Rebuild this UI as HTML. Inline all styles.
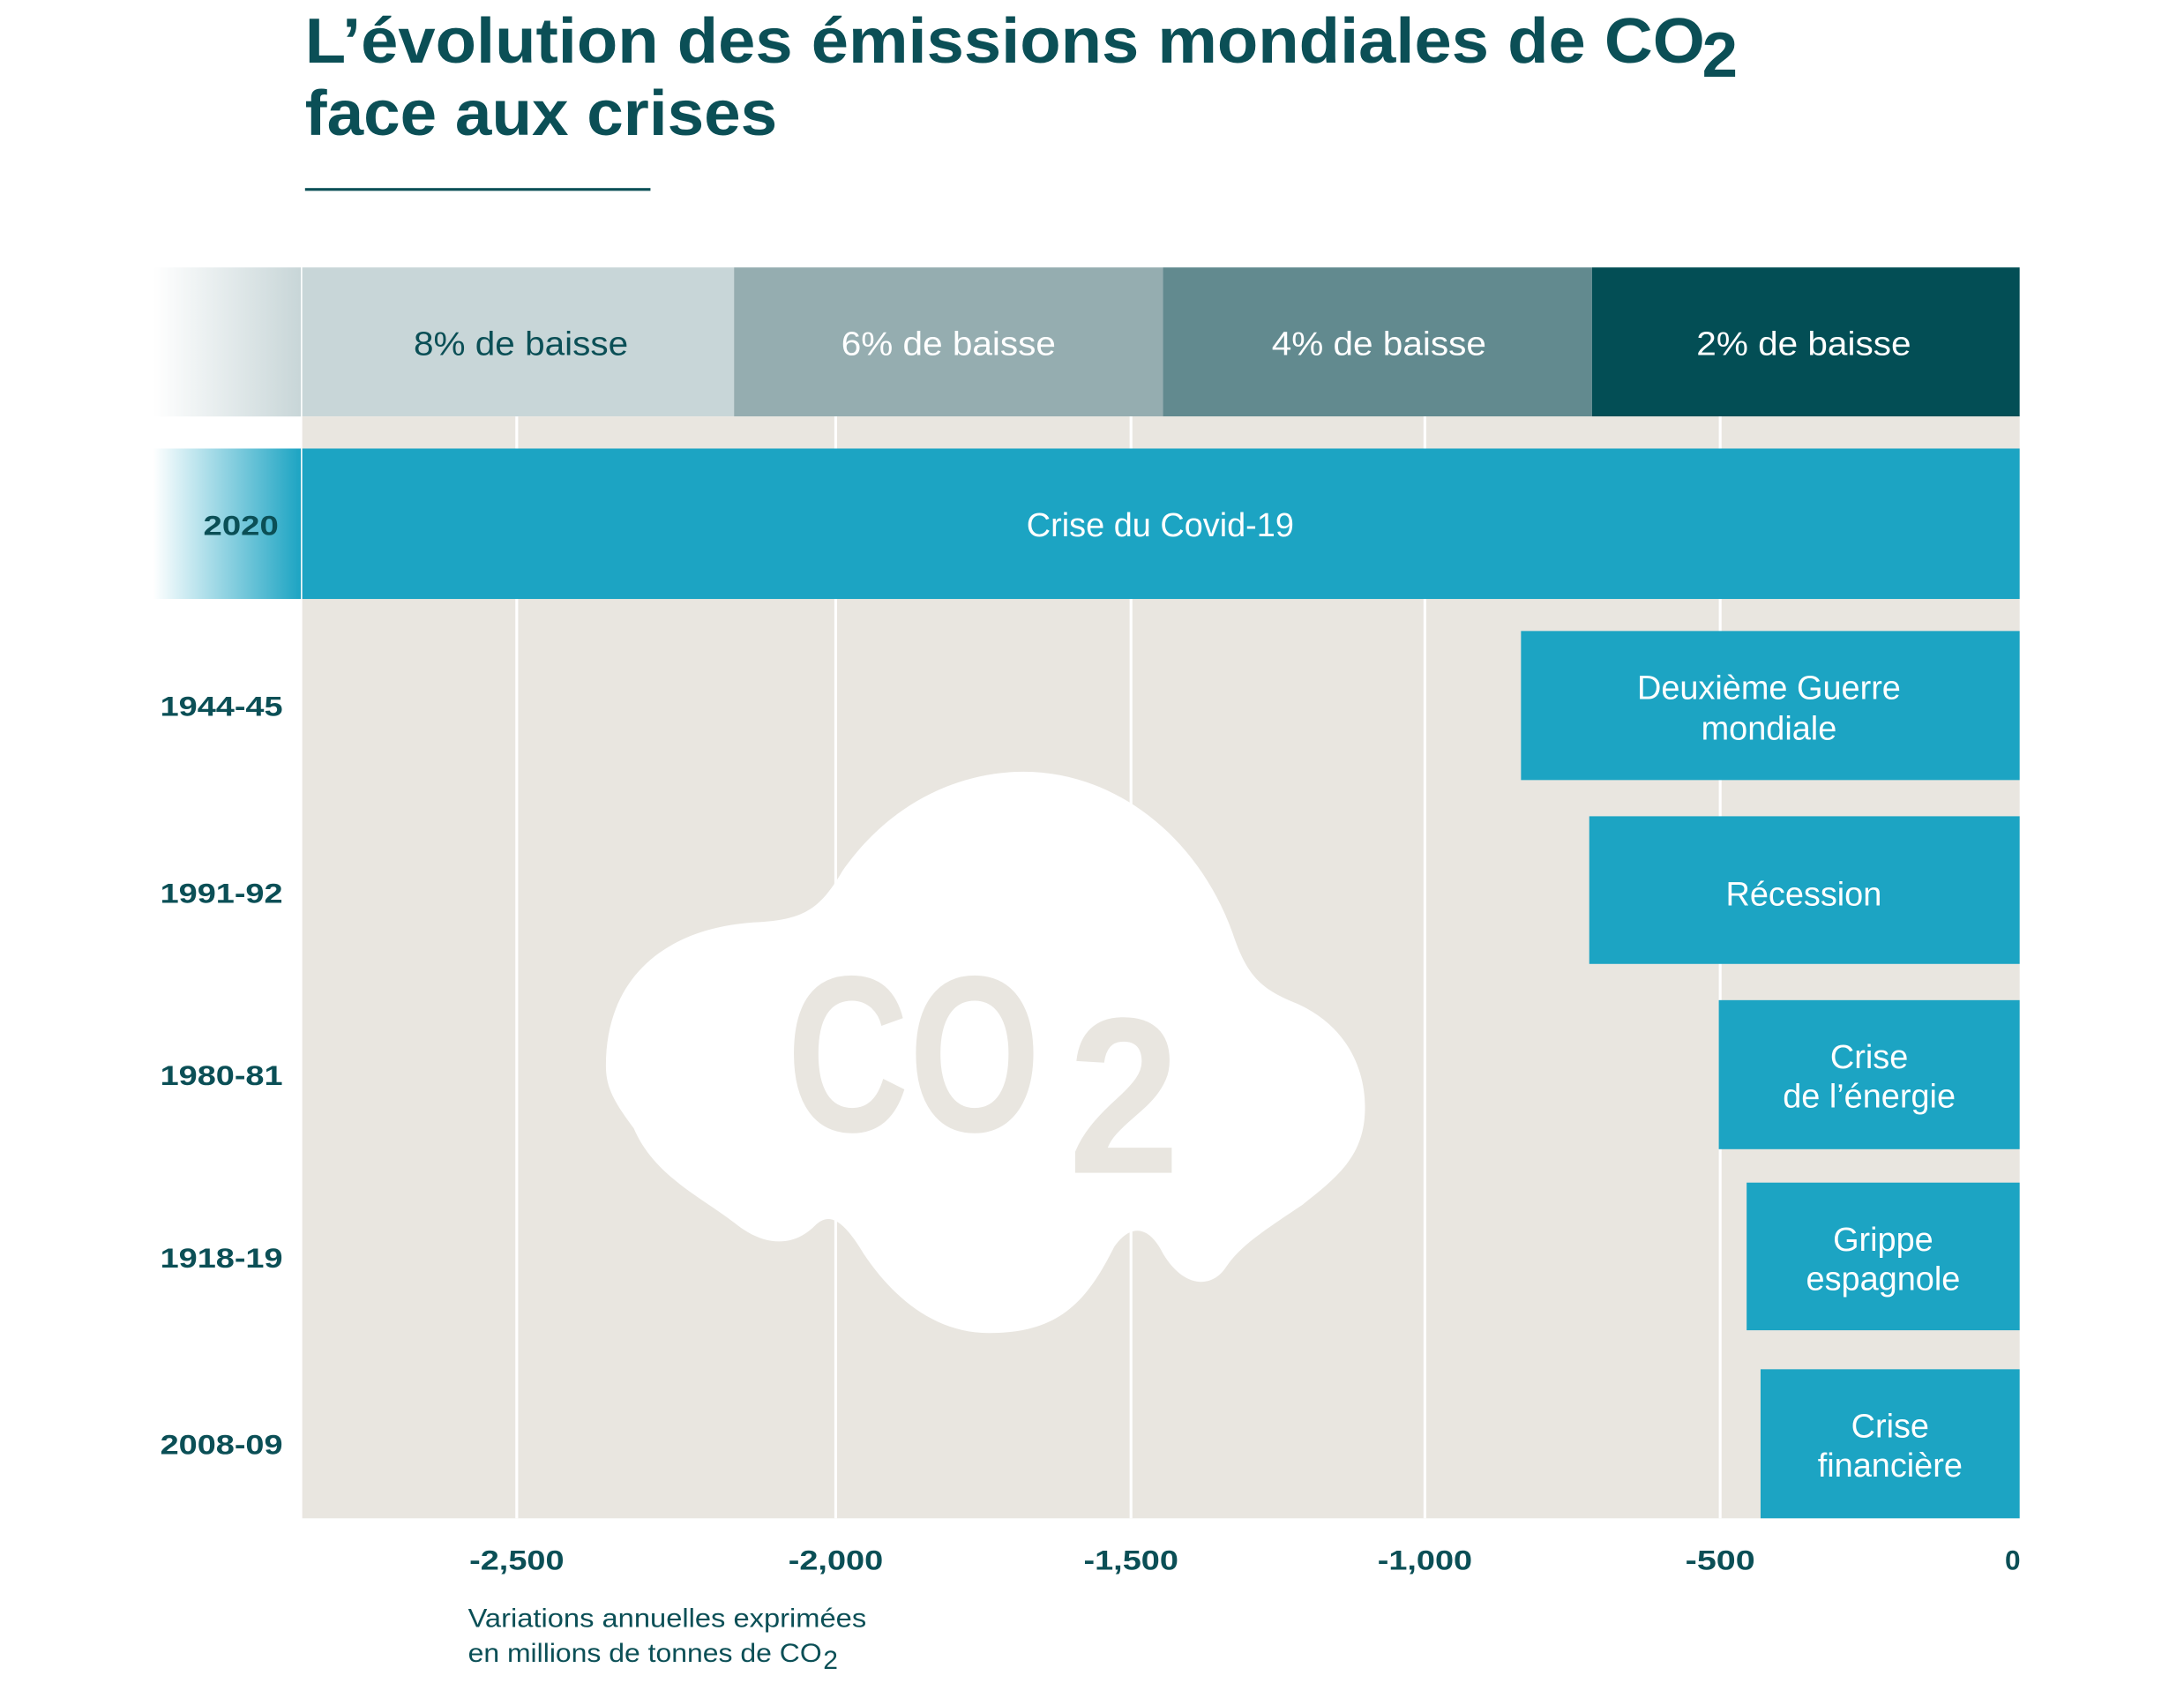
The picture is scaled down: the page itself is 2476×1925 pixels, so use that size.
<!DOCTYPE html>
<html><head><meta charset="utf-8"><style>
html,body{margin:0;padding:0;background:#fff;}
svg{display:block;}
</style></head><body>
<svg width="2476" height="1925" viewBox="0 0 1568 1219" preserveAspectRatio="none" xmlns="http://www.w3.org/2000/svg" font-family="Liberation Sans, DejaVu Sans, sans-serif">
<defs>
<linearGradient id="fadeG" x1="0" x2="1" y1="0" y2="0">
<stop offset="0" stop-color="#c8d6d8" stop-opacity="0"/>
<stop offset="1" stop-color="#c8d6d8" stop-opacity="1"/>
</linearGradient>
<linearGradient id="fadeB" x1="0" x2="1" y1="0" y2="0">
<stop offset="0" stop-color="#1ca4c3" stop-opacity="0"/>
<stop offset="1" stop-color="#1ca4c3" stop-opacity="1"/>
</linearGradient>
</defs>
<rect width="1568" height="1219" fill="#fff"/>
<!-- Title -->
<text x="219" y="45" font-size="46" font-weight="bold" fill="#0b4f56" textLength="1005" lengthAdjust="spacingAndGlyphs">L’évolution des émissions mondiales de CO</text>
<text x="1222" y="55" font-size="46" font-weight="bold" fill="#0b4f56">2</text>
<text x="219" y="97" font-size="46" font-weight="bold" fill="#0b4f56" textLength="339" lengthAdjust="spacingAndGlyphs">face aux crises</text>
<rect x="219" y="135" width="248" height="2" fill="#0b4f56"/>
<!-- header band -->
<rect x="110" y="192" width="106" height="107" fill="url(#fadeG)"/>
<rect x="217" y="192" width="310" height="107" fill="#c8d6d8"/>
<rect x="527" y="192" width="308" height="107" fill="#95adb0"/>
<rect x="835" y="192" width="308" height="107" fill="#628a8f"/>
<rect x="1143" y="192" width="307" height="107" fill="#034e55"/>
<g font-size="24" text-anchor="middle">
<text x="374" y="255" fill="#0b4f56" textLength="154" lengthAdjust="spacingAndGlyphs">8% de baisse</text>
<text x="681" y="255" fill="#fff" textLength="154" lengthAdjust="spacingAndGlyphs">6% de baisse</text>
<text x="990" y="255" fill="#fff" textLength="154" lengthAdjust="spacingAndGlyphs">4% de baisse</text>
<text x="1295" y="255" fill="#fff" textLength="154" lengthAdjust="spacingAndGlyphs">2% de baisse</text>
</g>
<!-- plot bg -->
<rect x="217" y="299" width="1233" height="791" fill="#e9e6e0"/>
<g stroke="#fff" stroke-width="2">
<line x1="371" y1="299" x2="371" y2="1090"/>
<line x1="600" y1="299" x2="600" y2="1090"/>
<line x1="812" y1="299" x2="812" y2="1090"/>
<line x1="1023" y1="299" x2="1023" y2="1090"/>
<line x1="1235" y1="299" x2="1235" y2="1090"/>
</g>
<!-- cloud -->
<path fill="#fff" d="M 435 765 C 435 700, 480 665, 545 662 C 580 660, 590 650, 605 625 C 640 575, 690 554, 735 554 C 800 554, 860 600, 885 670 C 895 700, 905 710, 930 720 C 965 735, 980 765, 980 795 C 980 830, 960 845, 935 865 C 905 885, 890 895, 880 910 C 870 925, 850 925, 835 900 C 825 880, 812 878, 800 895 C 780 935, 760 957, 710 957 C 670 957, 640 930, 620 900 C 605 875, 595 870, 585 880 C 570 895, 550 895, 530 880 C 505 860, 470 845, 455 810 C 440 790, 435 780, 435 765 Z"/>
<text x="565" y="812" font-size="160" font-weight="bold" fill="#e9e6e0" textLength="182" lengthAdjust="spacingAndGlyphs">CO</text>
<text x="767" y="842" font-size="160" font-weight="bold" fill="#e9e6e0" textLength="80" lengthAdjust="spacingAndGlyphs">2</text>
<!-- bars -->
<rect x="110" y="322" width="106" height="108" fill="url(#fadeB)"/>
<rect x="217" y="322" width="1233" height="108" fill="#1ca4c3"/>
<rect x="1092" y="453" width="358" height="107" fill="#1ca4c3"/>
<rect x="1141" y="586" width="309" height="106" fill="#1ca4c3"/>
<rect x="1234" y="718" width="216" height="107" fill="#1ca4c3"/>
<rect x="1254" y="849" width="196" height="106" fill="#1ca4c3"/>
<rect x="1264" y="983" width="186" height="107" fill="#1ca4c3"/>
<g font-size="24" fill="#fff" text-anchor="middle">
<text x="833" y="385">Crise du Covid-19</text>
<text x="1270" y="502">Deuxième Guerre</text>
<text x="1270" y="531">mondiale</text>
<text x="1295" y="650">Récession</text>
<text x="1342" y="767">Crise</text>
<text x="1342" y="795">de l’énergie</text>
<text x="1352" y="898">Grippe</text>
<text x="1352" y="926">espagnole</text>
<text x="1357" y="1032">Crise</text>
<text x="1357" y="1060">financière</text>
</g>
<!-- year labels -->
<g font-size="20" font-weight="bold" fill="#0b4f56" text-anchor="end">
<text x="200" y="384" textLength="54" lengthAdjust="spacingAndGlyphs">2020</text>
<text x="203" y="514" textLength="88" lengthAdjust="spacingAndGlyphs">1944-45</text>
<text x="203" y="648" textLength="88" lengthAdjust="spacingAndGlyphs">1991-92</text>
<text x="203" y="779" textLength="88" lengthAdjust="spacingAndGlyphs">1980-81</text>
<text x="203" y="910" textLength="88" lengthAdjust="spacingAndGlyphs">1918-19</text>
<text x="203" y="1044" textLength="88" lengthAdjust="spacingAndGlyphs">2008-09</text>
</g>
<!-- ticks -->
<g font-size="20" font-weight="bold" fill="#0b4f56" text-anchor="middle">
<text x="371" y="1127" textLength="68" lengthAdjust="spacingAndGlyphs">-2,500</text>
<text x="600" y="1127" textLength="68" lengthAdjust="spacingAndGlyphs">-2,000</text>
<text x="812" y="1127" textLength="68" lengthAdjust="spacingAndGlyphs">-1,500</text>
<text x="1023" y="1127" textLength="68" lengthAdjust="spacingAndGlyphs">-1,000</text>
<text x="1235" y="1127" textLength="50" lengthAdjust="spacingAndGlyphs">-500</text>
<text x="1445" y="1127">0</text>
</g>
<g font-size="19" fill="#0b4f56">
<text x="336" y="1168" textLength="286" lengthAdjust="spacingAndGlyphs">Variations annuelles exprimées</text>
<text x="336" y="1193" textLength="254" lengthAdjust="spacingAndGlyphs">en millions de tonnes de CO</text>
<text x="591" y="1198" font-size="19">2</text>
</g>
</svg>
</body></html>
